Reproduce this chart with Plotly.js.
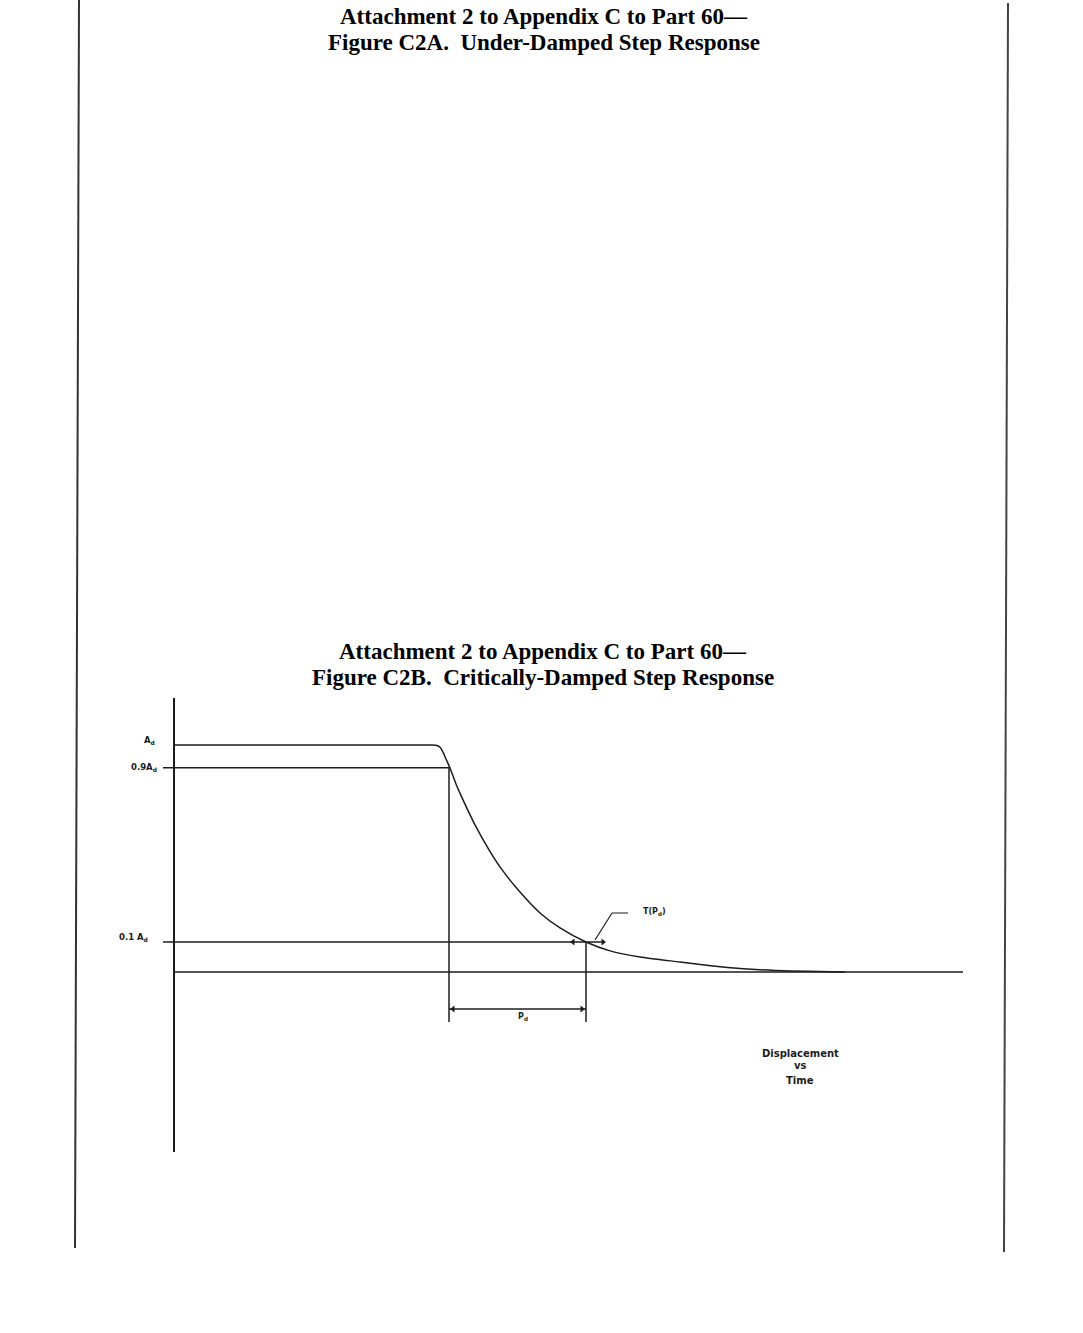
<!DOCTYPE html>
<html>
<head>
<meta charset="utf-8">
<script src="https://cdn.plot.ly/plotly-3.0.1.min.js"></script>
<style>html,body{margin:0;padding:0;background:#fff;}#chart{width:1083px;height:1333px;}</style>
</head>
<body>
<div id="chart"></div>
<script>
// ---- Data (time in arbitrary units, displacement as fraction of A_d) ----
const titleTop = ["Attachment 2 to Appendix C to Part 60\u2014", "Figure C2A.\u00a0 Under-Damped Step Response"];
const titleBottom = ["Attachment 2 to Appendix C to Part 60\u2014", "Figure C2B.\u00a0 Critically-Damped Step Response"];
const levelLabels = ["A<sub>d</sub>", "0.9A<sub>d</sub>", "0.1 A<sub>d</sub>"];
const levelValues = [1.0, 0.9, 0.132];
const curveT = [0, 2.58, 2.63, 2.66, 2.69, 2.72, 2.76, 2.82, 2.89, 3.01, 3.14, 3.26, 3.46, 3.66, 3.86, 4.12, 4.36, 4.66, 5.06, 5.39, 5.66, 6.01, 6.71];
const curveV = [1, 1, 0.998, 0.99, 0.969, 0.938, 0.899, 0.828, 0.758, 0.648, 0.546, 0.463, 0.352, 0.260, 0.194, 0.132, 0.093, 0.066, 0.044, 0.026, 0.015, 0.007, 0];
const t90 = 2.75;      // time where response passes 0.9 A_d
const t10 = 4.12;      // time where response passes 0.1 A_d
const tAxisEnd = 7.89; // end of time axis (baseline)
const axisSpan = [1.207, -0.793];
const dimLow = -0.22;  // bottom of dimension lines
const pdLevel = -0.163;
const axisLabel = ["Displacement", "vs", "Time"];

const ink = "#1c1c1c";
const lw = 1.5;
function seg(x, y, w, shape) {
  return {x: x, y: y, type: "scatter", mode: "lines",
    line: {color: ink, width: w || lw, shape: shape || "linear", smoothing: 0.6},
    hoverinfo: "skip", showlegend: false};
}
function heads(x, y, symbols) {
  return {x: x, y: y, type: "scatter", mode: "markers",
    marker: {symbol: symbols, size: 6, color: ink, line: {width: 0}},
    hoverinfo: "skip", showlegend: false};
}

const traces = [
  seg([0, 0], axisSpan, 2),
  seg(curveT, curveV, lw, "spline"),
  seg([-0.11, t90], [levelValues[1], levelValues[1]], lw),
  seg([-0.11, 4.31], [levelValues[2], levelValues[2]], lw),
  seg([0, tAxisEnd], [0, 0], lw),
  seg([t90, t90], [levelValues[1], dimLow], lw),
  seg([t10, t10], [levelValues[2], dimLow], lw),
  seg([t90, t10], [pdLevel, pdLevel], 1.3),
  seg([4.54, 4.38, 4.21], [0.26, 0.26, 0.141], 1.2),
  heads([t90 + 0.04, t10 - 0.04, 3.99, 4.29], [pdLevel, pdLevel, levelValues[2], levelValues[2]],
        ["triangle-left", "triangle-right", "triangle-left", "triangle-right"])
];

const smallFont = {family: "DejaVu Sans", size: 8, color: ink, weight: "bold"};
const titleFont = {family: "Liberation Serif", size: 23, color: "#000", weight: "bold"};

const annotations = [];
// titles
[[titleTop, 16, 0.5023], [titleBottom, 651, 0.501]].forEach(([lines, top, xc]) => {
  lines.forEach((txt, i) => {
    annotations.push({text: txt, xref: "paper", yref: "paper", x: xc, y: 1 - (top + 26.5 * i) / 1333,
      xanchor: "center", yanchor: "middle", showarrow: false, font: titleFont});
  });
});
// level labels
const labelPos = [[-0.17, 1.022], [-0.15, 0.9], [-0.24, 0.15]];
levelLabels.forEach((lab, i) => {
  annotations.push({text: lab, x: labelPos[i][0], y: labelPos[i][1], xref: "x", yref: "y",
    xanchor: "right", yanchor: "middle", showarrow: false, font: {family: "DejaVu Sans", size: 8.5, color: ink, weight: "bold"}});
});
annotations.push({text: "P<sub>d</sub>", x: 3.49, y: -0.198, xref: "x", yref: "y", showarrow: false, font: smallFont});
annotations.push({text: "T(P<sub>d</sub>)", x: 4.8, y: 0.266, xref: "x", yref: "y", showarrow: false, font: smallFont});
axisLabel.forEach((txt, i) => {
  annotations.push({text: txt, x: 6.26, y: [-0.361, -0.410, -0.480][i], xref: "x", yref: "y", showarrow: false,
    font: {family: "DejaVu Sans", size: 10, color: ink, weight: "bold"}});
});

const shapes = [
  {type: "line", xref: "paper", yref: "paper", x0: 79 / 1083, y0: 1, x1: 75 / 1083, y1: 1 - 1248 / 1333, line: {color: "#333", width: 2}},
  {type: "line", xref: "paper", yref: "paper", x0: 1008 / 1083, y0: 1 - 3 / 1333, x1: 1004 / 1083, y1: 1 - 1252 / 1333, line: {color: "#444", width: 2}}
];

const layout = {
  width: 1083, height: 1333,
  margin: {l: 0, r: 0, t: 0, b: 0},
  paper_bgcolor: "#fff", plot_bgcolor: "#fff",
  xaxis: {range: [-1.74, 9.09], visible: false, fixedrange: true},
  yaxis: {range: [-1.5903, 4.2819], visible: false, fixedrange: true},
  showlegend: false,
  annotations: annotations,
  shapes: shapes
};

Plotly.newPlot("chart", traces, layout, {staticPlot: true, displayModeBar: false});
</script>
</body>
</html>
